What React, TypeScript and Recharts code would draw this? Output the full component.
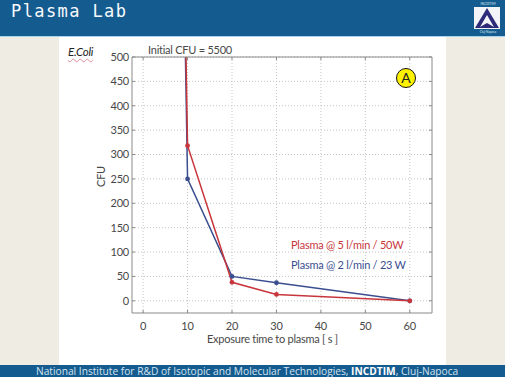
import { CartesianGrid, Line, LineChart, XAxis, YAxis } from "recharts";

// exposure time in seconds; the 0 s point is the initial count, far above the plot
const times = [0, 10, 20, 30, 60];
const cfu5l50w = [5500, 318, 38, 13, 0];
const cfu2l23w = [5500, 250, 50, 37, 0];
const xTicks = [0, 10, 20, 30, 40, 50, 60];
const yTicks = [0, 50, 100, 150, 200, 250, 300, 350, 400, 450, 500];

const data = times.map((t, i) => ({ t, red: cfu5l50w[i], blue: cfu2l23w[i] }));

const BLUE = "#3b4f8f";
const RED = "#c8363c";
const HEADER = "#145c90";
const FONT = "Lato, sans-serif";

const tickStyle = { fontSize: 11, fill: "#484848", fontFamily: FONT, letterSpacing: -0.2 };
const axisLine = { stroke: "#8a8a8a", strokeWidth: 1 };
const innerTick = { stroke: "#8a8a8a" };

const label = (x: number, y: number, color: string, size = 11): React.CSSProperties => ({
  position: "absolute",
  left: x,
  top: y,
  color,
  fontSize: size,
  fontFamily: FONT,
  letterSpacing: -0.25,
  lineHeight: 1,
  whiteSpace: "nowrap",
});

const dot = (color: string) => (props: any) =>
  props.payload.t === 0 ? (
    <g key={props.index} />
  ) : (
    <circle key={props.index} cx={props.cx} cy={props.cy} r={2.4} fill={color} stroke="none" />
  );

export default function App() {
  return (
    <div style={{ position: "fixed", left: 0, top: 0, width: 505, height: 377, background: "#efede3", overflow: "hidden" }}>
      <div style={{ position: "absolute", left: 59, top: 37, width: 387, height: 328, background: "#fff" }} />
      <div style={{ position: "absolute", left: 0, top: 0, width: 505, height: 36, background: HEADER, borderBottom: "1px solid #a9d3ea" }} />
      <div style={{ position: "absolute", left: 11, top: 1, color: "#f8fafc", fontFamily: "'DejaVu Sans Mono', monospace", fontSize: 17, letterSpacing: 1.4, lineHeight: "20px", whiteSpace: "nowrap" }}>
        Plasma Lab
      </div>

      <svg width={32} height={34} style={{ position: "absolute", left: 472, top: 1 }}>
        <text x={16} y={4} textAnchor="middle" fontSize={3.5} fill="#dbe6f0" fontFamily={FONT}>INCDTIM</text>
        <rect x={2} y={6} width={26} height={22} fill="#f2f4f8" />
        <path d="M15 7 L27 27 L3 27 Z" fill="#2d2a7a" />
        <path d="M15 14 L22 26 L15 22 L8 26 Z" fill="#f2f4f8" />
        <text x={16} y={32} textAnchor="middle" fontSize={3} fill="#dbe6f0" fontFamily={FONT}>Cluj-Napoca</text>
      </svg>

      <div style={{ position: "absolute", left: 0, top: 0 }}>
        <LineChart
          width={505}
          height={377}
          data={data}
          margin={{ top: 56, right: 72, bottom: 34, left: 102 }}
        >
          <CartesianGrid
            xAxisId="bottom"
            yAxisId="left"
            stroke="#c4c4c4"
            strokeDasharray="1 2"
            syncWithTicks
          />
          <XAxis
            xAxisId="bottom"
            dataKey="t"
            type="number"
            domain={[-2.5, 65]}
            ticks={xTicks}
            allowDataOverflow
            height={30}
            interval={0}
            tick={tickStyle}
            axisLine={axisLine}
            tickLine={innerTick}
            tickSize={-3}
            tickMargin={12}
          />
          <XAxis
            xAxisId="top"
            orientation="top"
            dataKey="t"
            type="number"
            domain={[-2.5, 65]}
            ticks={xTicks}
            allowDataOverflow
            height={1}
            interval={0}
            tick={() => <g />}
            axisLine={axisLine}
            tickLine={innerTick}
            tickSize={-3}
          />
          <YAxis
            yAxisId="left"
            type="number"
            domain={[-25, 500]}
            ticks={yTicks}
            allowDataOverflow
            width={30}
            interval={0}
            tick={tickStyle}
            axisLine={axisLine}
            tickLine={innerTick}
            tickSize={-3}
            tickMargin={6}
          />
          <YAxis
            yAxisId="right"
            orientation="right"
            type="number"
            domain={[-25, 500]}
            ticks={yTicks}
            allowDataOverflow
            width={1}
            interval={0}
            tick={() => <g />}
            axisLine={axisLine}
            tickLine={innerTick}
            tickSize={-3}
          />
          <Line
            xAxisId="bottom"
            yAxisId="left"
            dataKey="blue"
            stroke={BLUE}
            strokeWidth={1.5}
            dot={dot(BLUE)}
            isAnimationActive={false}
          />
          <Line
            xAxisId="bottom"
            yAxisId="left"
            dataKey="red"
            stroke={RED}
            strokeWidth={1.5}
            dot={dot(RED)}
            isAnimationActive={false}
          />
        </LineChart>
      </div>

      <div style={{ ...label(68, 46, "#222", 11.5), fontStyle: "italic", textDecoration: "underline wavy #e08a95 1px", textUnderlineOffset: 2 }}>E.Coli</div>
      <div style={label(148, 44, "#484848")}>Initial CFU = 5500</div>
      <div style={{ ...label(90, 171, "#484848"), transform: "rotate(-90deg)" }}>CFU</div>
      <div style={label(207, 333, "#484848")}>Exposure time to plasma [ s ]</div>
      <div style={label(291, 239, RED, 11)}>Plasma @ 5 l/min / 50W</div>
      <div style={label(291, 259, BLUE, 11)}>Plasma @ 2 l/min / 23 W</div>

      <div style={{ position: "absolute", left: 396, top: 68, width: 18, height: 18, borderRadius: "50%", background: "#fff200", border: "1.5px solid #111", color: "#222", fontFamily: FONT, fontSize: 14, lineHeight: "18px", textAlign: "center" }}>
        A
      </div>

      <div style={{ position: "absolute", left: 0, top: 365, width: 505, height: 12, background: HEADER }} />
      <div style={{ position: "absolute", left: 36, top: 365, height: 12, color: "#d5e3ef", fontFamily: "'Open Sans', sans-serif", fontSize: 10.2, lineHeight: "12px", whiteSpace: "nowrap" }}>
        National Institute for R&amp;D of Isotopic and Molecular Technologies, <b style={{ color: "#fff" }}>INCDTIM</b>, Cluj-Napoca
      </div>
    </div>
  );
}
